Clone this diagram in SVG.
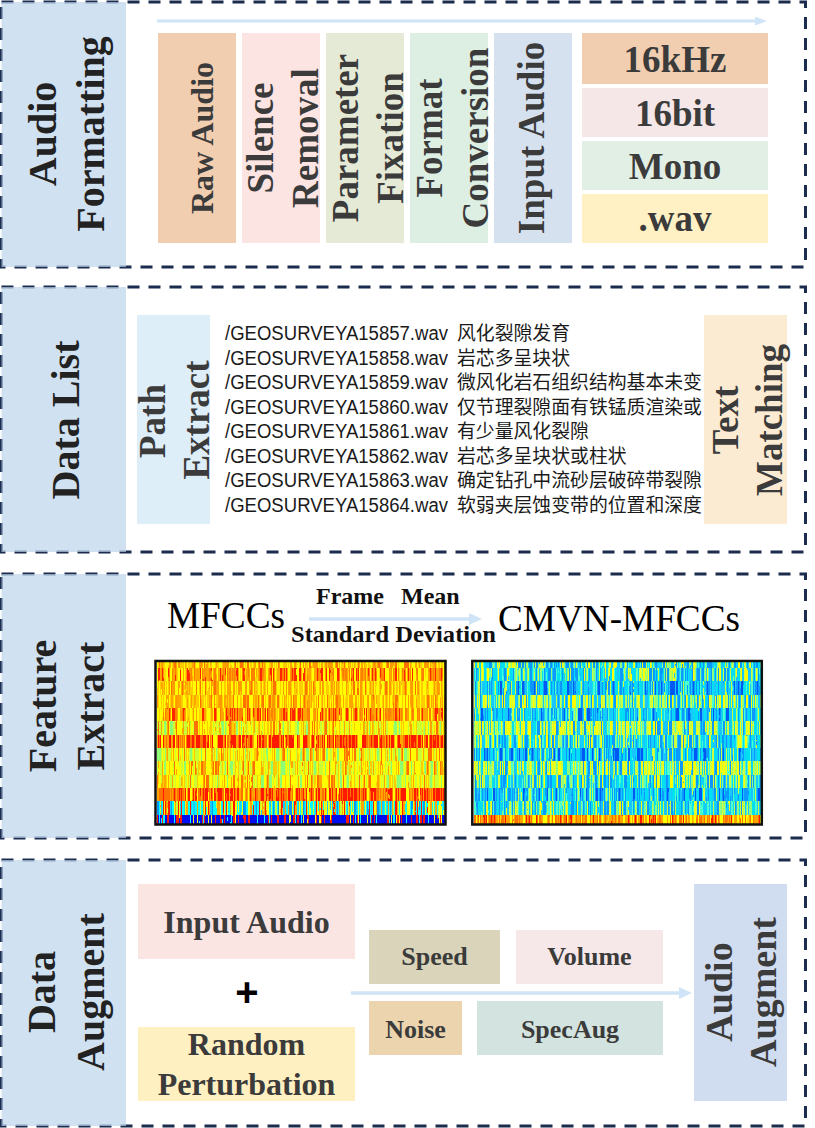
<svg xmlns="http://www.w3.org/2000/svg" width="815" height="1128" viewBox="0 0 815 1128">
<style>
.bd{fill:none;stroke:#1B2C4E;stroke-width:3;stroke-dasharray:12 9}
.pn{fill:#BCD4EB;fill-opacity:.7}
.lb{font-family:"Liberation Serif","Times New Roman",serif;font-weight:bold;font-size:40px;fill:#222;text-anchor:middle}
.bx{font-family:"Liberation Serif","Times New Roman",serif;font-weight:bold;font-size:37px;fill:#3B3B3B;text-anchor:middle}
.sm{font-family:"Liberation Serif","Times New Roman",serif;font-weight:bold;font-size:26px;fill:#3B3B3B;text-anchor:middle}
.fl{font-family:"Liberation Sans",Arial,sans-serif;font-size:20px;fill:#1a1a1a}
.zh{font-family:"Noto Sans CJK SC",sans-serif;font-size:18.85px;fill:#1a1a1a}
.rg{font-family:"Liberation Serif","Times New Roman",serif;font-size:37px;fill:#000}
.ft{font-family:"Liberation Serif","Times New Roman",serif;font-weight:bold;font-size:24px;fill:#111}
.cn{stroke:#CFE4F6;stroke-width:3.5;fill:none}
.fr{fill:none;stroke:#111;stroke-width:2.5}
</style>
<defs>
<marker id="ah" markerUnits="userSpaceOnUse" markerWidth="13" markerHeight="12" viewBox="0 0 13 12" refX="1" refY="6" orient="auto"><path d="M0,0 L13,6 L0,12 Z" fill="#CFE4F6"/></marker>
<marker id="ah2" markerUnits="userSpaceOnUse" markerWidth="12" markerHeight="9" viewBox="0 0 12 9" refX="1" refY="4.5" orient="auto"><path d="M0,0 L12,4.5 L0,9 Z" fill="#CFE4F6"/></marker>
<filter id="pA" x="0" y="0" width="1" height="1" color-interpolation-filters="sRGB"><feTurbulence type="fractalNoise" baseFrequency="0.3 0.001" numOctaves="2" seed="3"/><feColorMatrix values="2.6 0 0 0 -0.8 2.6 0 0 0 -0.8 2.6 0 0 0 -0.8 0 0 0 0 1"/><feComponentTransfer><feFuncR type="discrete" tableValues="1 1 1 1 1 1 1 1 1 1"/><feFuncG type="discrete" tableValues=".45 .65 .8 1 1 .8 .65 1 .8 .6"/><feFuncB type="discrete" tableValues="0 0 0 0 0 0 0 0 0 0"/></feComponentTransfer></filter>
<filter id="pB" x="0" y="0" width="1" height="1" color-interpolation-filters="sRGB"><feTurbulence type="fractalNoise" baseFrequency="0.3 0.001" numOctaves="2" seed="7"/><feColorMatrix values="2.6 0 0 0 -0.8 2.6 0 0 0 -0.8 2.6 0 0 0 -0.8 0 0 0 0 1"/><feComponentTransfer><feFuncR type="discrete" tableValues="1 1 1 1 1 1 1 1 1 1"/><feFuncG type="discrete" tableValues="1 .85 .65 .5 .65 .15 .5 .6 .15 1"/><feFuncB type="discrete" tableValues="0 0 0 0 0 0 0 0 0 0"/></feComponentTransfer></filter>
<filter id="pR" x="0" y="0" width="1" height="1" color-interpolation-filters="sRGB"><feTurbulence type="fractalNoise" baseFrequency="0.3 0.001" numOctaves="2" seed="13"/><feColorMatrix values="2.6 0 0 0 -0.8 2.6 0 0 0 -0.8 2.6 0 0 0 -0.8 0 0 0 0 1"/><feComponentTransfer><feFuncR type="discrete" tableValues="1 1 1 1 1 1 1 1 1 1"/><feFuncG type="discrete" tableValues=".65 .45 .1 .1 .45 .1 .65 .1 .45 1"/><feFuncB type="discrete" tableValues="0 0 0 0 0 0 0 0 0 0"/></feComponentTransfer></filter>
<filter id="pC" x="0" y="0" width="1" height="1" color-interpolation-filters="sRGB"><feTurbulence type="fractalNoise" baseFrequency="0.3 0.001" numOctaves="2" seed="21"/><feColorMatrix values="2.6 0 0 0 -0.8 2.6 0 0 0 -0.8 2.6 0 0 0 -0.8 0 0 0 0 1"/><feComponentTransfer><feFuncR type="discrete" tableValues=".55 .8 1 1 1 1 .8 1 1 1"/><feFuncG type="discrete" tableValues="1 1 1 1 .8 1 1 .65 1 .45"/><feFuncB type="discrete" tableValues=".45 .2 0 0 0 0 .2 0 0 0"/></feComponentTransfer></filter>
<filter id="pD" x="0" y="0" width="1" height="1" color-interpolation-filters="sRGB"><feTurbulence type="fractalNoise" baseFrequency="0.3 0.001" numOctaves="2" seed="31"/><feColorMatrix values="2.6 0 0 0 -0.8 2.6 0 0 0 -0.8 2.6 0 0 0 -0.8 0 0 0 0 1"/><feComponentTransfer><feFuncR type="discrete" tableValues="0 0 .1 1 0 .8 1 1 0 1"/><feFuncG type="discrete" tableValues=".6 1 .8 1 1 1 .65 .1 1 1"/><feFuncB type="discrete" tableValues="1 1 1 0 1 .2 0 0 1 0"/></feComponentTransfer></filter>
<filter id="pE" x="0" y="0" width="1" height="1" color-interpolation-filters="sRGB"><feTurbulence type="fractalNoise" baseFrequency="0.3 0.001" numOctaves="2" seed="41"/><feColorMatrix values="2.6 0 0 0 -0.8 2.6 0 0 0 -0.8 2.6 0 0 0 -0.8 0 0 0 0 1"/><feComponentTransfer><feFuncR type="discrete" tableValues="1 1 0 0 0 0 0 0 0 1"/><feFuncG type="discrete" tableValues=".1 1 .05 .05 .05 .05 .05 1 .05 .1"/><feFuncB type="discrete" tableValues="0 0 .95 .95 .95 .95 .95 1 .95 0"/></feComponentTransfer></filter>
<filter id="qA" x="0" y="0" width="1" height="1" color-interpolation-filters="sRGB"><feTurbulence type="fractalNoise" baseFrequency="0.3 0.001" numOctaves="2" seed="53"/><feColorMatrix values="2.6 0 0 0 -0.8 2.6 0 0 0 -0.8 2.6 0 0 0 -0.8 0 0 0 0 1"/><feComponentTransfer><feFuncR type="discrete" tableValues=".05 .1 0 .3 0 .55 .8 .1 1 .05"/><feFuncG type="discrete" tableValues=".6 .78 .88 1 .88 1 1 .78 1 .6"/><feFuncB type="discrete" tableValues="1 1 .95 .8 .95 .5 .25 1 0 1"/></feComponentTransfer></filter>
<filter id="qB" x="0" y="0" width="1" height="1" color-interpolation-filters="sRGB"><feTurbulence type="fractalNoise" baseFrequency="0.3 0.001" numOctaves="2" seed="61"/><feColorMatrix values="2.6 0 0 0 -0.8 2.6 0 0 0 -0.8 2.6 0 0 0 -0.8 0 0 0 0 1"/><feComponentTransfer><feFuncR type="discrete" tableValues="0 .05 .1 .05 0 .1 .3 .05 .8 0"/><feFuncG type="discrete" tableValues=".35 .6 .78 .6 .88 .78 1 .6 1 .88"/><feFuncB type="discrete" tableValues=".95 1 1 1 .95 1 .8 1 .25 .95"/></feComponentTransfer></filter>
<filter id="qC" x="0" y="0" width="1" height="1" color-interpolation-filters="sRGB"><feTurbulence type="fractalNoise" baseFrequency="0.3 0.001" numOctaves="2" seed="71"/><feColorMatrix values="2.6 0 0 0 -0.8 2.6 0 0 0 -0.8 2.6 0 0 0 -0.8 0 0 0 0 1"/><feComponentTransfer><feFuncR type="discrete" tableValues=".1 0 .55 .8 1 .3 .8 1 .1 .05"/><feFuncG type="discrete" tableValues=".78 .88 1 1 1 1 1 1 .78 .6"/><feFuncB type="discrete" tableValues="1 .95 .5 .25 0 .8 .25 0 1 1"/></feComponentTransfer></filter>
<filter id="qD" x="0" y="0" width="1" height="1" color-interpolation-filters="sRGB"><feTurbulence type="fractalNoise" baseFrequency="0.3 0.001" numOctaves="2" seed="83"/><feColorMatrix values="2.6 0 0 0 -0.8 2.6 0 0 0 -0.8 2.6 0 0 0 -0.8 0 0 0 0 1"/><feComponentTransfer><feFuncR type="discrete" tableValues="1 1 1 1 1 1 1 1 1 1"/><feFuncG type="discrete" tableValues="1 .85 .65 .45 .65 .45 .1 .65 .45 1"/><feFuncB type="discrete" tableValues="0 0 0 0 0 0 0 0 0 0"/></feComponentTransfer></filter>
</defs>
<rect width="815" height="1128" fill="#fff"/>

<!-- Section 1: Audio Formatting -->
<g id="sec-audio-formatting">
<rect class="bd" x="1.5" y="2" width="804" height="265"/>
<rect class="pn" x="1.5" y="2" width="124.5" height="265"/>
<text class="lb" transform="translate(56,134) rotate(-90)">Audio</text>
<text class="lb" transform="translate(104,134) rotate(-90)">Formatting</text>
</g>
<g id="raw-audio"><rect x="158" y="33" width="78" height="210" fill="#F2CEB0"/><text class="bx" style="font-size:32px" transform="translate(213,138) rotate(-90)">Raw Audio</text></g>
<g id="silence-removal"><rect x="242" y="33" width="78" height="210" fill="#FCE4E2"/><text class="bx" transform="translate(273,138) rotate(-90)">Silence</text><text class="bx" transform="translate(318,138) rotate(-90)">Removal</text></g>
<g id="parameter-fixation"><rect x="326" y="33" width="78" height="210" fill="#E5EAD6"/><text class="bx" transform="translate(358,138) rotate(-90)">Parameter</text><text class="bx" transform="translate(403,138) rotate(-90)">Fixation</text></g>
<g id="format-conversion"><rect x="410" y="33" width="78" height="210" fill="#DDEFE3"/><text class="bx" transform="translate(442,138) rotate(-90)">Format</text><text class="bx" transform="translate(488,138) rotate(-90)">Conversion</text></g>
<g id="input-audio-1"><rect x="494" y="33" width="78" height="210" fill="#D6E1EF"/><text class="bx" transform="translate(544,138) rotate(-90)">Input Audio</text></g>
<g id="p-16khz"><rect x="582" y="33" width="186" height="51" fill="#F2CEB0"/><text class="bx" x="675" y="72">16kHz</text></g>
<g id="p-16bit"><rect x="582" y="88" width="186" height="49" fill="#F5E6E7"/><text class="bx" x="675" y="126">16bit</text></g>
<g id="p-mono"><rect x="582" y="141" width="186" height="49" fill="#E2EFE4"/><text class="bx" x="675" y="179">Mono</text></g>
<g id="p-wav"><rect x="582" y="194" width="186" height="49" fill="#FFF1C4"/><text class="bx" x="675" y="231">.wav</text></g>

<!-- Section 2: Data List -->
<g id="sec-data-list">
<rect class="bd" x="1.5" y="287" width="804" height="265"/>
<rect class="pn" x="1.5" y="287" width="124.5" height="265"/>
<text class="lb" transform="translate(79,420) rotate(-90)">Data List</text>
</g>
<g id="path-extract"><rect x="137" y="315" width="73" height="209" fill="#DDEEF9"/><text class="bx" transform="translate(165,421) rotate(-90)">Path</text><text class="bx" transform="translate(209,420) rotate(-90)">Extract</text></g>
<g id="text-matching"><rect x="704" y="315" width="83" height="209" fill="#FBEBD3"/><text class="bx" transform="translate(738,420) rotate(-90)">Text</text><text class="bx" transform="translate(782,420) rotate(-90)">Matching</text></g>
<g id="file-list">
<text class="fl" x="225" y="340" textLength="223" lengthAdjust="spacingAndGlyphs">/GEOSURVEYA15857.wav</text><text class="zh" x="457" y="340">风化裂隙发育</text>
<text class="fl" x="225" y="364.5" textLength="223" lengthAdjust="spacingAndGlyphs">/GEOSURVEYA15858.wav</text><text class="zh" x="457" y="364.5">岩芯多呈块状</text>
<text class="fl" x="225" y="389" textLength="223" lengthAdjust="spacingAndGlyphs">/GEOSURVEYA15859.wav</text><text class="zh" x="457" y="389">微风化岩石组织结构基本未变</text>
<text class="fl" x="225" y="413.5" textLength="223" lengthAdjust="spacingAndGlyphs">/GEOSURVEYA15860.wav</text><text class="zh" x="457" y="413.5">仅节理裂隙面有铁锰质渲染或</text>
<text class="fl" x="225" y="438" textLength="223" lengthAdjust="spacingAndGlyphs">/GEOSURVEYA15861.wav</text><text class="zh" x="457" y="438">有少量风化裂隙</text>
<text class="fl" x="225" y="462.5" textLength="223" lengthAdjust="spacingAndGlyphs">/GEOSURVEYA15862.wav</text><text class="zh" x="457" y="462.5">岩芯多呈块状或柱状</text>
<text class="fl" x="225" y="487" textLength="223" lengthAdjust="spacingAndGlyphs">/GEOSURVEYA15863.wav</text><text class="zh" x="457" y="487">确定钻孔中流砂层破碎带裂隙</text>
<text class="fl" x="225" y="511.5" textLength="223" lengthAdjust="spacingAndGlyphs">/GEOSURVEYA15864.wav</text><text class="zh" x="457" y="511.5">软弱夹层蚀变带的位置和深度</text>
</g>

<!-- Section 3: Feature Extract -->
<g id="sec-feature-extract">
<rect class="bd" x="1.5" y="574" width="804" height="264"/>
<rect class="pn" x="1.5" y="574" width="124.5" height="264"/>
<text class="lb" transform="translate(56,706) rotate(-90)">Feature</text>
<text class="lb" transform="translate(104,706) rotate(-90)">Extract</text>
</g>
<g id="mfccs-label"><text class="rg" x="167" y="628" textLength="118" lengthAdjust="spacingAndGlyphs">MFCCs</text></g>
<g id="cmvn-label"><text class="rg" x="498" y="631" textLength="242" lengthAdjust="spacingAndGlyphs">CMVN-MFCCs</text></g>
<g id="arrow-labels">
<text class="ft" y="604"><tspan x="316">Frame</tspan><tspan x="401">Mean</tspan></text>
<text class="ft" x="291" y="642" textLength="205" lengthAdjust="spacingAndGlyphs">Standard Deviation</text>
</g>
<g id="mfcc-heatmap">
<rect x="155.5" y="661" width="290" height="163.5" fill="#fff"/>
<g transform="translate(0,0)"><rect x="157" y="662.3" width="288" height="6" filter="url(#pA)"/></g>
<g transform="translate(97,0)"><rect x="60" y="668.3" width="288" height="13.4" filter="url(#pB)"/></g>
<g transform="translate(211,0)"><rect x="-54" y="681.7" width="288" height="13.4" filter="url(#pA)"/></g>
<g transform="translate(333,0)"><rect x="-176" y="695" width="288" height="13.4" filter="url(#pA)"/></g>
<g transform="translate(457,0)"><rect x="-300" y="708.3" width="288" height="13.4" filter="url(#pB)"/></g>
<g transform="translate(589,0)"><rect x="-432" y="721.7" width="288" height="13.4" filter="url(#pC)"/></g>
<g transform="translate(701,0)"><rect x="-544" y="735" width="288" height="13.4" filter="url(#pR)"/></g>
<g transform="translate(823,0)"><rect x="-666" y="748.3" width="288" height="13.4" filter="url(#pC)"/></g>
<g transform="translate(947,0)"><rect x="-790" y="761.7" width="288" height="13.4" filter="url(#pC)"/></g>
<g transform="translate(1063,0)"><rect x="-906" y="775" width="288" height="13.4" filter="url(#pC)"/></g>
<g transform="translate(0,0)"><rect x="157" y="788.3" width="288" height="13.4" filter="url(#pR)"/></g>
<g transform="translate(0,0)"><rect x="157" y="801.7" width="288" height="14" filter="url(#pD)"/></g>
<g transform="translate(0,0)"><rect x="157" y="815.7" width="288" height="7.6" filter="url(#pE)"/></g>
<rect class="fr" x="155.5" y="661" width="290" height="163.5"/>
</g>
<g id="cmvn-heatmap">
<rect x="472.3" y="661" width="289.5" height="163.5" fill="#fff"/>
<g transform="translate(0,0)"><rect x="474" y="662.3" width="287" height="6" filter="url(#qA)"/></g>
<g transform="translate(131,0)"><rect x="343" y="668.3" width="287" height="13.4" filter="url(#qA)"/></g>
<g transform="translate(0,0)"><rect x="474" y="681.7" width="287" height="13.4" filter="url(#qB)"/></g>
<g transform="translate(0,0)"><rect x="474" y="695" width="287" height="13.4" filter="url(#qC)"/></g>
<g transform="translate(263,0)"><rect x="211" y="708.3" width="287" height="13.4" filter="url(#qB)"/></g>
<g transform="translate(263,0)"><rect x="211" y="721.7" width="287" height="13.4" filter="url(#qC)"/></g>
<g transform="translate(389,0)"><rect x="85" y="735" width="287" height="13.4" filter="url(#qA)"/></g>
<g transform="translate(521,0)"><rect x="-47" y="748.3" width="287" height="13.4" filter="url(#qB)"/></g>
<g transform="translate(521,0)"><rect x="-47" y="761.7" width="287" height="13.4" filter="url(#qC)"/></g>
<g transform="translate(647,0)"><rect x="-173" y="775" width="287" height="13.4" filter="url(#qA)"/></g>
<g transform="translate(779,0)"><rect x="-305" y="788.3" width="287" height="13.4" filter="url(#qB)"/></g>
<g transform="translate(907,0)"><rect x="-433" y="801.7" width="287" height="14" filter="url(#qA)"/></g>
<g transform="translate(0,0)"><rect x="474" y="815.7" width="287" height="7.6" filter="url(#qD)"/></g>
<rect class="fr" x="472.3" y="661" width="289.5" height="163.5"/>
</g>

<!-- Section 4: Data Augment -->
<g id="sec-data-augment">
<rect class="bd" x="1.5" y="860" width="804" height="266"/>
<rect class="pn" x="1.5" y="860" width="124.5" height="266"/>
<text class="lb" transform="translate(55,992) rotate(-90)">Data</text>
<text class="lb" transform="translate(104,992) rotate(-90)">Augment</text>
</g>
<g id="input-audio-2"><rect x="138" y="884" width="217" height="75" fill="#FBE5E3"/><text class="bx" style="font-size:32px" x="246.5" y="933">Input Audio</text></g>
<g id="plus"><text x="247" y="1006" style="font-family:'Liberation Sans',Arial,sans-serif;font-weight:bold;font-size:40px;fill:#000;text-anchor:middle">+</text></g>
<g id="random-perturbation"><rect x="138" y="1027" width="217" height="74" fill="#FFF0C2"/><text class="bx" style="font-size:32px" x="246.5" y="1055">Random</text><text class="bx" style="font-size:32px" x="246.5" y="1095">Perturbation</text></g>
<g id="speed"><rect x="369" y="930" width="131" height="54" fill="#D9D4BA"/><text class="sm" x="434.5" y="965">Speed</text></g>
<g id="volume"><rect x="516" y="930" width="147" height="54" fill="#F6E7E8"/><text class="sm" x="589.5" y="965">Volume</text></g>
<g id="noise"><rect x="369" y="1001" width="93" height="54" fill="#EBD4AE"/><text class="sm" x="415.5" y="1038">Noise</text></g>
<g id="specaug"><rect x="477" y="1001" width="186" height="54" fill="#D3E3DF"/><text class="sm" x="570" y="1038">SpecAug</text></g>
<g id="audio-augment"><rect x="694" y="884" width="93" height="217" fill="#D0DCF0"/><text class="bx" style="font-size:38px" transform="translate(732,992) rotate(-90)">Audio</text><text class="bx" style="font-size:38px" transform="translate(776,992) rotate(-90)">Augment</text></g>

<!-- Connectors -->
<g id="connectors">
<line class="cn" x1="157" y1="21" x2="756" y2="21" style="stroke-width:3" marker-end="url(#ah2)"/>
<line class="cn" x1="309" y1="619" x2="470" y2="619" marker-end="url(#ah)"/>
<line class="cn" x1="351" y1="993" x2="680" y2="993" marker-end="url(#ah)"/>
</g>
</svg>
